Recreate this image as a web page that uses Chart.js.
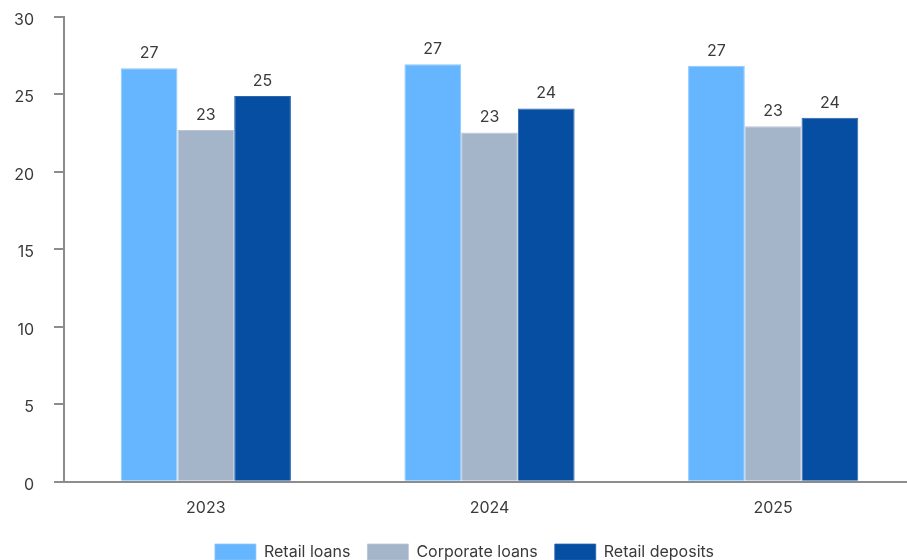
<!DOCTYPE html>
<html>
<head>
<meta charset="utf-8">
<script src="https://cdn.jsdelivr.net/npm/chart.js@4"></script>
<style>
  html, body { margin: 0; padding: 0; background: #fff; overflow: hidden; }
  #wrap { width: 915px; height: 570px; }
</style>
</head>
<body>
<div id="wrap"><canvas id="chart-rates"></canvas></div>
<script>
var years = ["2023", "2024", "2025"];
var retailLoans = [26.7, 26.95, 26.85];
var corporateLoans = [22.7, 22.55, 22.95];
var retailDeposits = [24.9, 24.1, 23.5];
var yTicks = [0, 5, 10, 15, 20, 25, 30];

var axisColor = "#8c8c8c";
var textColor = "#3a3a3a";
Chart.defaults.font.family = "Inter, 'Noto Sans', sans-serif";
Chart.defaults.font.size = 16;
Chart.defaults.color = textColor;

// writes the rounded value above every bar
var barValues = {
    id: "barValues",
    afterDatasetsDraw: function (chart) {
        var ctx = chart.ctx;
        ctx.save();
        ctx.font = "16px Inter, 'Noto Sans', sans-serif";
        ctx.fillStyle = textColor;
        ctx.textAlign = "center";
        ctx.textBaseline = "bottom";
        chart.data.datasets.forEach(function (ds, i) {
            chart.getDatasetMeta(i).data.forEach(function (bar, j) {
                ctx.fillText(Math.round(ds.data[j]), bar.x, bar.y - 7);
            });
        });
        ctx.restore();
    }
};

new Chart("chart-rates", {
    type: "bar",
    data: {
        labels: years,
        datasets: [{
            label: "Retail loans",
            data: retailLoans,
            backgroundColor: "#65b6ff",
            borderColor: "#8cc8ff",
            borderWidth: { top: 1, left: 1, right: 1, bottom: 0 }
        }, {
            label: "Corporate loans",
            data: corporateLoans,
            backgroundColor: "#a4b5c9",
            borderColor: "#b9c6d6",
            borderWidth: { top: 1, left: 1, right: 1, bottom: 0 }
        }, {
            label: "Retail deposits",
            data: retailDeposits,
            backgroundColor: "#054ea2",
            borderColor: "#2a67ae",
            borderWidth: { top: 1, left: 1, right: 1, bottom: 0 }
        }]
    },
    options: {
        responsive: true,
        maintainAspectRatio: false,
        animation: false,
        layout: { padding: { top: 0, left: 14, right: 0, bottom: 0 } },
        datasets: { bar: { categoryPercentage: 0.6, barPercentage: 1.0 } },
        plugins: {
            tooltip: { enabled: false },
            legend: {
                position: "bottom",
                labels: {
                    boxWidth: 41,
                    boxHeight: 16,
                    padding: 17,
                    color: textColor
                }
            }
        },
        scales: {
            x: {
                grid: { display: false },
                border: { display: true, color: axisColor, width: 2 },
                ticks: { padding: 9 }
            },
            y: {
                min: 0,
                max: 30,
                afterBuildTicks: function (scale) {
                    scale.ticks = yTicks.map(function (v) { return { value: v }; });
                },
                afterFit: function (scale) {
                    scale.width = 50;
                    scale.paddingTop = 17;
                    scale.paddingBottom = 10;
                },
                grid: {
                    drawOnChartArea: false,
                    drawTicks: true,
                    tickLength: 10,
                    color: axisColor,
                    lineWidth: 2
                },
                border: { display: true, color: axisColor, width: 2 },
                ticks: { padding: 20, labelOffset: 3 }
            }
        }
    },
    plugins: [barValues]
});
</script>
</body>
</html>
